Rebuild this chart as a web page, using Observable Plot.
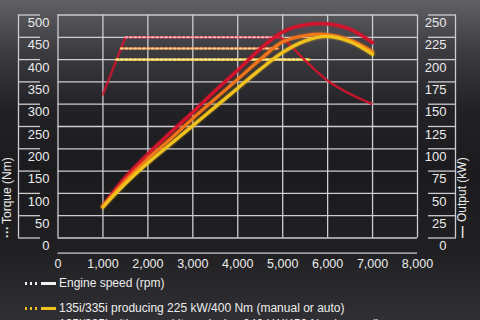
<!DOCTYPE html>
<html>
<head>
<meta charset="utf-8">
<script src="https://cdn.jsdelivr.net/npm/d3@7"></script>
<script src="https://cdn.jsdelivr.net/npm/@observablehq/plot@0.6"></script>
<style>
  html, body { margin: 0; padding: 0; }
  body {
    width: 480px; height: 320px; overflow: hidden; position: relative;
    background: linear-gradient(to bottom, #606065 0%, #3b3b40 16%, #222226 34%, #1b1b1e 55%, #202023 78%, #303034 100%);
    font-family: "Liberation Sans", Arial, sans-serif; color: #ececec;
  }
  #chart svg { display: block; }
  .row { position: absolute; left: 25px; height: 14px; display: flex; align-items: center; font-size: 12px; white-space: nowrap; }
  .dots { display: inline-block; width: 14px; height: 3px; margin-right: 2px; }
  .bar { display: inline-block; width: 15px; height: 3px; margin-right: 3px; }
</style>
</head>
<body>
<div id="chart"></div>
<script>
// Engine speed axis (rpm) and tick values
const rpmTicks = [0, 1000, 2000, 3000, 4000, 5000, 6000, 7000, 8000];
const torqueTicks = [0, 50, 100, 150, 200, 250, 300, 350, 400, 450, 500];

// Output curves (kW) sampled every 500 rpm
const rpm = [1000, 1500, 2000, 2500, 3000, 3500, 4000, 4500, 5000, 5500, 6000, 6500, 7000];
const outputRed = [36, 68, 94, 118, 141, 165, 188, 212, 231, 239, 240, 234, 219];
const outputOrange = [35, 64, 89, 111, 134, 156, 178, 200, 220, 227, 228, 222, 209];
const outputYellow = [35, 61, 84, 105, 126, 147, 168, 189, 208, 221, 226, 220, 206];

// Torque curves (Nm)
const riseRpm = [1000, 1500];
const riseTorque = [322, 450];
const plateauRed = {rpm: [1500, 4900], nm: [450, 450]};
const plateauOrange = {rpm: [1400, 4900], nm: [425, 425]};
const plateauYellow = {rpm: [1300, 5600], nm: [400, 400]};
const fallRpm = [4900, 5000, 5500, 6000, 6500, 7000];
const fallTorque = [450, 447, 398, 353, 323, 300];

const colors = {red: "#d3142c", orange: "#f0741a", yellow: "#f2c21c"};
const paleDots = {red: "#f3b4c0", orange: "#ffd2a0", yellow: "#fff0a8"};
const gridColor = "#cdcdd1";
const textColor = "#ececec";

const zip = (xs, ys) => xs.map((x, i) => ({rpm: x, v: ys[i]}));
// kW share the Nm scale: 250 kW sits on the 500 Nm line
const kwToScale = d => d.v * 2;

const plateau = (p, key) => [
  Plot.line(zip(p.rpm, p.nm), {x: "rpm", y: "v", stroke: colors[key], strokeWidth: 2.6, strokeOpacity: 0.75}),
  Plot.line(zip(p.rpm, p.nm), {x: "rpm", y: "v", stroke: paleDots[key], strokeWidth: 2, strokeDasharray: "2,2.4"})
];

const output = (vals, key) => [
  Plot.line(zip(rpm, vals), {x: "rpm", y: kwToScale, curve: "catmull-rom", stroke: colors[key], strokeWidth: 6, strokeOpacity: 0.18}),
  Plot.line(zip(rpm, vals), {x: "rpm", y: kwToScale, curve: "catmull-rom", stroke: colors[key], strokeWidth: 3.3})
];

const chart = Plot.plot({
  width: 480,
  height: 272,
  marginLeft: 57.5,
  marginRight: 63,
  marginTop: 14.5,
  marginBottom: 34.5,
  x: {domain: [0, 8000]},
  y: {domain: [0, 500]},
  style: {background: "transparent", color: textColor, fontFamily: "'Liberation Sans', Arial, sans-serif", fontSize: "13px"},
  marks: [
    Plot.gridX(rpmTicks, {stroke: gridColor, strokeOpacity: 1, strokeWidth: 1.3}),
    Plot.gridY(torqueTicks, {stroke: gridColor, strokeOpacity: 1, strokeWidth: 1.3}),
    // bracket lines of the two value axes
    Plot.ruleX([0], {dx: -39.5, stroke: gridColor, strokeWidth: 1.3}),
    Plot.ruleX([8000], {dx: 38, stroke: gridColor, strokeWidth: 1.3}),
    Plot.axisY(torqueTicks, {anchor: "left", tickSize: 22, dx: -17.5, fill: "none", stroke: gridColor, strokeWidth: 1.3, label: null}),
    Plot.axisY(torqueTicks, {anchor: "left", tickSize: 0, tickPadding: 8.5, dy: 8, label: null, fontSize: 13}),
    Plot.axisY(torqueTicks, {anchor: "right", tickSize: 28, dx: 10, fill: "none", stroke: gridColor, strokeWidth: 1.3, label: null}),
    Plot.axisY(torqueTicks, {anchor: "right", tickSize: 0, tickPadding: 29, dy: 8, textAnchor: "end", tickFormat: d => d / 2, label: null, fontSize: 13}),
    // engine speed axis
    Plot.ruleY([0], {dy: 15.2, stroke: gridColor, strokeWidth: 1.3}),
    Plot.axisX(rpmTicks, {anchor: "bottom", tickSize: 0, tickPadding: 21, tickFormat: d3.format(","), label: null, fontSize: 12.5}),
    // axis titles with their line-style keys
    Plot.text(["···"], {frameAnchor: "bottom-left", dx: -47.5, rotate: -90, textAnchor: "start", fontSize: 12, fontWeight: "bold", fill: textColor}),
    Plot.text(["Torque (Nm)"], {frameAnchor: "bottom-left", dx: -47.5, dy: -14, rotate: -90, textAnchor: "start", fontSize: 12, fill: textColor}),
    Plot.text(["—"], {frameAnchor: "bottom-right", dx: 48, rotate: -90, textAnchor: "start", fontSize: 12, fontWeight: "bold", fill: textColor}),
    Plot.text(["Output (kW)"], {frameAnchor: "bottom-right", dx: 48, dy: -16, rotate: -90, textAnchor: "start", fontSize: 12, fill: textColor}),
    // torque
    Plot.line(zip(riseRpm, riseTorque), {x: "rpm", y: "v", stroke: colors.red, strokeWidth: 2.6, strokeOpacity: 0.8}),
    ...plateau(plateauYellow, "yellow"),
    ...plateau(plateauOrange, "orange"),
    ...plateau(plateauRed, "red"),
    Plot.line(zip(fallRpm, fallTorque), {x: "rpm", y: "v", curve: "catmull-rom", stroke: colors.red, strokeWidth: 2.6, strokeDasharray: "2.4,1.8", strokeOpacity: 0.9}),
    // output
    ...output(outputRed, "red"),
    ...output(outputOrange, "orange"),
    ...output(outputYellow, "yellow")
  ]
});
document.getElementById("chart").append(chart);

// legend rows
const legendRows = [
  {top: 276, color: "#f2f2f2", text: "Engine speed (rpm)"},
  {top: 301, color: colors.yellow, text: "135i/335i producing 225 kW/400 Nm (manual or auto)"},
  {top: 317, color: colors.orange, text: "135i/335i with power kit producing 240 kW/450 Nm (manual)"}
];
for (const r of legendRows) {
  const row = document.createElement("div");
  row.className = "row";
  row.style.top = r.top + "px";
  const dots = document.createElement("span");
  dots.className = "dots";
  dots.style.background = `repeating-linear-gradient(to right, ${r.color} 0 2.5px, transparent 2.5px 5px)`;
  const bar = document.createElement("span");
  bar.className = "bar";
  bar.style.background = r.color;
  const label = document.createElement("span");
  label.textContent = r.text;
  row.append(dots, bar, label);
  document.body.append(row);
}
</script>
</body>
</html>
